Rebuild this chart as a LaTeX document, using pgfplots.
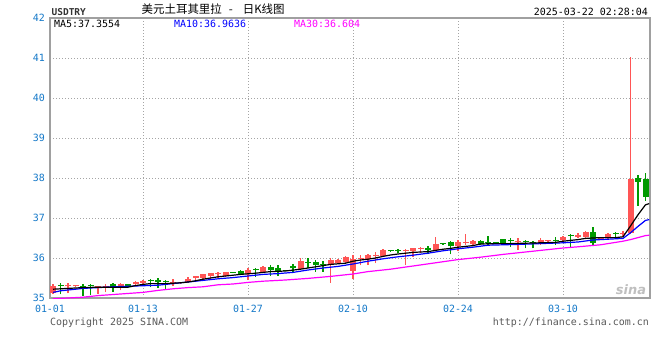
\documentclass[border=0pt]{standalone}
\usepackage{pgfplots}
\pgfplotsset{compat=1.18}
\usepackage{pgfplotstable}
\usepackage{fontspec}
\setmainfont{DejaVu Sans Mono}
\newfontfamily\cjk{Noto Sans CJK SC}
\newfontfamily\logofont{DejaVu Sans}
\definecolor{upred}{RGB}{255,85,85}
\definecolor{dngreen}{RGB}{0,153,0}
\definecolor{tickblue}{RGB}{20,120,200}
\definecolor{framegray}{RGB}{160,160,160}
\definecolor{gridgray}{RGB}{165,165,165}
\definecolor{magentaMA}{RGB}{255,0,255}

\pgfplotstableread{
k O H L C
0 35.13 35.35 35.10 35.31
2 35.29 35.38 35.12 35.30
3 35.29 35.32 35.28 35.31
6 35.24 35.31 35.10 35.30
7 35.27 35.36 35.15 35.28
9 35.27 35.37 35.19 35.34
11 35.34 35.42 35.32 35.41
12 35.37 35.45 35.33 35.43
16 35.38 35.48 35.30 35.39
17 35.37 35.41 35.36 35.40
18 35.39 35.52 35.37 35.47
19 35.51 35.56 35.39 35.52
20 35.51 35.61 35.43 35.59
21 35.56 35.63 35.48 35.62
22 35.59 35.66 35.50 35.61
23 35.55 35.65 35.52 35.64
26 35.59 35.74 35.45 35.70
28 35.66 35.80 35.64 35.78
33 35.725 35.99 35.70 35.925
37 35.825 35.99 35.38 35.95
38 35.87 35.97 35.85 35.95
39 35.91 36.05 35.88 36.03
40 35.68 36.08 35.47 35.98
41 35.97 36.08 35.82 35.99
42 35.975 36.09 35.82 36.075
43 36.04 36.14 35.87 36.05
44 36.05 36.22 36.03 36.20
47 36.17 36.225 35.825 36.18
48 36.175 36.26 36.03 36.24
49 36.23 36.27 36.13 36.24
51 36.20 36.53 36.175 36.35
54 36.29 36.45 36.175 36.41
55 36.38 36.59 36.325 36.39
56 36.35 36.44 36.33 36.425
62 36.40 36.49 36.20 36.41
65 36.35 36.49 36.33 36.45
66 36.42 36.44 36.41 36.43
68 36.45 36.55 36.38 36.53
70 36.52 36.63 36.50 36.575
71 36.52 36.68 36.50 36.66
73 36.48 36.50 36.47 36.49
74 36.49 36.63 36.48 36.60
76 36.59 36.68 36.53 36.60
77 36.63 41.03 36.60 37.97
}\upcandles

\pgfplotstableread{
k O H L C
1 35.33 35.37 35.10 35.30
4 35.29 35.34 35.06 35.28
5 35.30 35.34 35.07 35.29
8 35.35 35.37 35.16 35.27
10 35.32 35.33 35.30 35.31
13 35.43 35.47 35.27 35.42
14 35.42 35.49 35.25 35.41
15 35.40 35.45 35.23 35.39
24 35.64 35.64 35.62 35.63
25 35.675 35.70 35.57 35.59
27 35.71 35.74 35.53 35.70
29 35.775 35.82 35.55 35.70
30 35.76 35.82 35.56 35.66
31 35.69 35.70 35.67 35.68
32 35.81 35.85 35.66 35.74
34 35.90 35.99 35.76 35.88
35 35.90 35.94 35.66 35.82
36 35.84 35.93 35.66 35.83
45 36.18 36.18 36.16 36.17
46 36.18 36.225 36.12 36.17
50 36.22 36.31 36.09 36.21
52 36.355 36.36 36.34 36.345
53 36.41 36.43 36.09 36.29
57 36.43 36.45 36.33 36.35
58 36.38 36.55 36.33 36.37
59 36.37 36.38 36.36 36.36
60 36.475 36.48 36.34 36.35
61 36.43 36.49 36.28 36.42
63 36.41 36.45 36.24 36.40
64 36.38 36.43 36.24 36.37
67 36.43 36.52 36.33 36.42
69 36.56 36.60 36.28 36.55
72 36.66 36.78 36.33 36.37
75 36.61 36.66 36.49 36.60
78 37.99 38.08 37.31 37.91
79 37.97 38.12 37.43 37.53
}\downcandles

\begin{document}
\begin{tikzpicture}
\path[use as bounding box] (0,0) rectangle (660bp,360bp);
\begin{axis}[
  at={(50bp,62bp)}, anchor=south west,
  width=600bp, height=280bp, scale only axis,
  xmin=-0.4, xmax=79.6, ymin=35, ymax=42,
  axis line style={draw=framegray, line width=1.5bp},
  xtick={-0.4,12,26,40,54,68},
  xticklabels={01-01,01-13,01-27,02-10,02-24,03-10},
  ytick={35,36,37,38,39,40,41,42},
  yticklabels={35,36,37,38,39,40,41,42},
  major tick length=0pt,
  grid=major,
  major grid style={draw=gridgray, line width=0.9bp, dash pattern=on 1bp off 2bp},
  tick label style={font=\fontsize{10}{12}\selectfont, text=tickblue},
  xticklabel style={anchor=north, inner sep=0pt, yshift=-7bp},
  yticklabel style={anchor=east, inner sep=0pt, xshift=-5bp},
  clip=true,
]
% wicks
\addplot[draw=none, mark=none, error bars/.cd, y dir=plus, y explicit, error mark=none,
  error bar style={draw=upred, line width=1.2bp, solid}]
  table[x=k, y=L, y error plus expr={\thisrow{H}-\thisrow{L}}] {\upcandles};
\addplot[draw=none, mark=none, error bars/.cd, y dir=plus, y explicit, error mark=none,
  error bar style={draw=dngreen, line width=1.2bp, solid}]
  table[x=k, y=L, y error plus expr={\thisrow{H}-\thisrow{L}}] {\downcandles};
% bodies
\addplot[draw=none, mark=none, error bars/.cd, y dir=plus, y explicit, error mark=none,
  error bar style={draw=upred, line width=6bp, solid, line cap=butt}]
  table[x=k, y=O, y error plus expr={max(\thisrow{C}-\thisrow{O},0.03)}] {\upcandles};
\addplot[draw=none, mark=none, error bars/.cd, y dir=plus, y explicit, error mark=none,
  error bar style={draw=dngreen, line width=6bp, solid, line cap=butt}]
  table[x=k, y=C, y error plus expr={max(\thisrow{O}-\thisrow{C},0.03)}] {\downcandles};
% MA30
\addplot[magentaMA, line width=1.2bp, mark=none] coordinates {
(0,34.98) (2,35.00) (4,35.02) (6,35.06) (9,35.10) (12,35.14) (14,35.19) (16,35.23)
(18,35.26) (20,35.28) (22,35.33) (24,35.35) (26,35.39) (28,35.42) (31,35.45) (34,35.49)
(37,35.54) (40,35.60) (42,35.66) (45,35.72) (48,35.80) (51,35.88) (54,35.96) (57,36.02)
(60,36.09) (63,36.15) (66,36.21) (68,36.25) (70,36.28) (73,36.33) (76,36.42) (77,36.46)
(78,36.51) (79,36.56) (79.5,36.57)};
% MA10
\addplot[blue, line width=1.2bp, mark=none] coordinates {
(0,35.14) (1,35.18) (2,35.20) (4,35.24) (8,35.28) (11,35.30) (14,35.32) (16,35.36)
(18,35.40) (20,35.44) (22,35.48) (24,35.51) (26,35.55) (28,35.59) (30,35.61) (32,35.64)
(34,35.70) (36,35.75) (38,35.79) (40,35.85) (42,35.92) (44,35.98) (46,36.03) (48,36.07)
(50,36.12) (52,36.18) (54,36.23) (56,36.27) (58,36.32) (62,36.34) (65,36.36) (68,36.38)
(70,36.40) (72,36.45) (74,36.47) (76,36.49) (77,36.63) (78,36.79) (79,36.94) (79.5,36.96)};
% MA5
\addplot[black, line width=1.2bp, mark=none] coordinates {
(0,35.22) (2,35.24) (4,35.26) (6,35.27) (10,35.27) (11,35.31) (12,35.34) (13,35.36)
(15,35.36) (17,35.38) (18,35.40) (19,35.43) (20,35.47) (21,35.50) (22,35.53) (23,35.55)
(25,35.59) (27,35.62) (28,35.64) (29,35.66) (31,35.675) (33,35.72) (35,35.78) (37,35.84)
(39,35.87) (40,35.92) (41,35.95) (42,35.97) (43,36.00) (44,36.04) (45,36.075) (46,36.10)
(48,36.14) (50,36.16) (51,36.19) (52,36.22) (53,36.24) (54,36.27) (56,36.31) (57,36.35)
(59,36.36) (61,36.36) (63,36.37) (65,36.38) (67,36.39) (68,36.42) (69,36.44) (70,36.46)
(71,36.49) (73,36.51) (75,36.51) (76,36.53) (77,36.80) (78,37.08) (79,37.33) (79.5,37.36)};
\end{axis}
% header texts
\node[anchor=west, inner sep=0pt, text=black!80] at (51.5bp,347.5bp)
  {\fontsize{9.5}{11}\selectfont\bfseries USDTRY};
\node[anchor=west, inner sep=0pt] at (141.5bp,350.5bp)
  {\cjk\fontsize{11.5}{13}\selectfont 美元土耳其里拉\hspace{7bp}-\hspace{10bp}日K线图};
\node[anchor=east, inner sep=0pt] at (648bp,348.5bp)
  {\fontsize{10}{12}\selectfont 2025-03-22 02:28:04};
\node[anchor=west, inner sep=0pt] at (54bp,336bp)
  {\fontsize{10}{12}\selectfont MA5:37.3554};
\node[anchor=west, inner sep=0pt, text=blue] at (174bp,336bp)
  {\fontsize{10}{12}\selectfont MA10:36.9636};
\node[anchor=west, inner sep=0pt, text=magentaMA] at (294bp,336bp)
  {\fontsize{10}{12}\selectfont MA30:36.604};
% footer texts
\node[anchor=west, inner sep=0pt, text=black!65] at (50bp,37bp)
  {\fontsize{10}{12}\selectfont Copyright 2025 SINA.COM};
\node[anchor=east, inner sep=0pt, text=black!65] at (649bp,37bp)
  {\fontsize{10}{12}\selectfont http://finance.sina.com.cn};
% watermark
\node[inner sep=0pt, text=black!25] at (631bp,70bp)
  {\logofont\fontsize{13}{14}\selectfont\bfseries\itshape sina};
\end{tikzpicture}
\end{document}
